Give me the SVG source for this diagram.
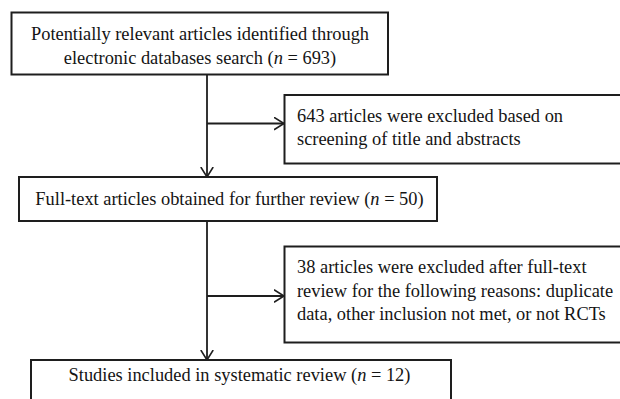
<svg xmlns="http://www.w3.org/2000/svg" width="620" height="399" viewBox="0 0 620 399">
  <style>
    .box { fill: #ffffff; stroke: #1e1e1e; stroke-width: 2; }
    .t { font-family: "Liberation Serif", "Times New Roman", serif; font-size: 18.4px; fill: #141414; }
    .c { text-anchor: middle; }
    .it { font-style: italic; }
    .line { fill: none; stroke: #1e1e1e; stroke-width: 1.8; }
  </style>
  <defs>
    <marker id="arrow" markerWidth="12" markerHeight="14" refX="10.5" refY="7" orient="auto" markerUnits="userSpaceOnUse">
      <path d="M0.5,0.8 L10.5,7 L0.5,13.2" fill="none" stroke="#1e1e1e" stroke-width="1.6"/>
    </marker>
  </defs>
  <rect width="620" height="399" fill="#ffffff"/>

  <g id="connectors">
    <line class="line" x1="207" y1="75" x2="207" y2="177" marker-end="url(#arrow)"/>
    <line class="line" x1="207" y1="123.5" x2="284" y2="123.5" marker-end="url(#arrow)"/>
    <line class="line" x1="207" y1="221" x2="207" y2="360" marker-end="url(#arrow)"/>
    <line class="line" x1="207" y1="296" x2="284" y2="296" marker-end="url(#arrow)"/>
  </g>

  <g id="node-identified">
    <rect class="box" x="11.5" y="12.5" width="376.5" height="62"/>
    <text class="t c" x="200" y="39.5">Potentially relevant articles identified through</text>
    <text class="t c" x="200" y="63.5">electronic databases search (<tspan class="it">n</tspan> = 693)</text>
  </g>

  <g id="node-excluded-screening">
    <rect class="box" x="284.5" y="95" width="360" height="68.5"/>
    <text class="t" x="297" y="122">643 articles were excluded based on</text>
    <text class="t" x="297" y="145">screening of title and abstracts</text>
  </g>

  <g id="node-fulltext">
    <rect class="box" x="19" y="177" width="418" height="44"/>
    <text class="t c" x="229.5" y="205">Full-text articles obtained for further review (<tspan class="it">n</tspan> = 50)</text>
  </g>

  <g id="node-excluded-fulltext">
    <rect class="box" x="284.5" y="246.5" width="360" height="96"/>
    <text class="t" x="297" y="273">38 articles were excluded after full-text</text>
    <text class="t" x="297" y="296.5">review for the following reasons: duplicate</text>
    <text class="t" x="297" y="319.5">data, other inclusion not met, or not RCTs</text>
  </g>

  <g id="node-included">
    <rect class="box" x="31" y="360" width="420" height="60"/>
    <text class="t c" x="239.5" y="381">Studies included in systematic review (<tspan class="it">n</tspan> = 12)</text>
  </g>
</svg>
